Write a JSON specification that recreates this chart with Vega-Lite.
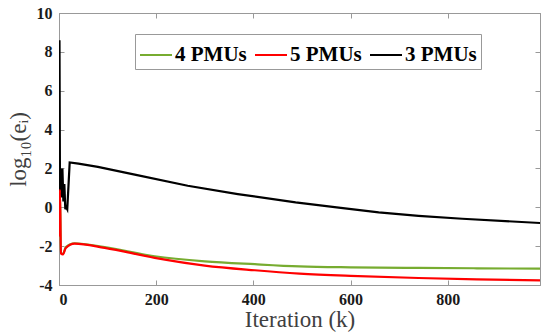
{
  "$schema": "https://vega.github.io/schema/vega-lite/v6.json",
  "width": 481,
  "height": 272,
  "autosize": {"type": "none"},
  "padding": {"left": 59, "top": 13, "right": 1, "bottom": 51},
  "background": "white",
  "config": {
    "view": {"stroke": "#999", "strokeWidth": 1},
    "axis": {
      "grid": false,
      "domainColor": "#999",
      "tickColor": "#999",
      "tickSize": -5,
      "labelOverlap": false,
      "labelFont": "Liberation Serif",
      "labelFontWeight": "bold",
      "labelFontSize": 16,
      "labelColor": "#1a1a1a",
      "titleFont": "Liberation Serif",
      "titleFontWeight": "normal",
      "titleFontSize": 23,
      "titleColor": "#404040"
    },
    "axisY": {"labelOverlap": false},
    "axisLeft": {"labelOverlap": false}
  },
  "datasets": {
    "lines": [
      {"series": "4 PMUs", "k": 0, "v": -1.5},
      {"series": "4 PMUs", "k": 2, "v": 0.8},
      {"series": "4 PMUs", "k": 4, "v": -2.35},
      {"series": "4 PMUs", "k": 8, "v": -2.4},
      {"series": "4 PMUs", "k": 14, "v": -2.05},
      {"series": "4 PMUs", "k": 32, "v": -1.85},
      {"series": "4 PMUs", "k": 94, "v": -2.05},
      {"series": "4 PMUs", "k": 197, "v": -2.52},
      {"series": "4 PMUs", "k": 300, "v": -2.78},
      {"series": "4 PMUs", "k": 403, "v": -2.93},
      {"series": "4 PMUs", "k": 495, "v": -3.04},
      {"series": "4 PMUs", "k": 600, "v": -3.09},
      {"series": "4 PMUs", "k": 740, "v": -3.12},
      {"series": "4 PMUs", "k": 860, "v": -3.14},
      {"series": "4 PMUs", "k": 991, "v": -3.16},
      {"series": "3 PMUs", "k": 0, "v": -1.4},
      {"series": "3 PMUs", "k": 1, "v": 8.6},
      {"series": "3 PMUs", "k": 2, "v": 1.0},
      {"series": "3 PMUs", "k": 3, "v": 2.0},
      {"series": "3 PMUs", "k": 5, "v": 0.5},
      {"series": "3 PMUs", "k": 7, "v": 2.0},
      {"series": "3 PMUs", "k": 9, "v": 0.3},
      {"series": "3 PMUs", "k": 11, "v": 1.2},
      {"series": "3 PMUs", "k": 13, "v": -0.1},
      {"series": "3 PMUs", "k": 15, "v": 0.0},
      {"series": "3 PMUs", "k": 17, "v": -0.1},
      {"series": "3 PMUs", "k": 22, "v": 2.31},
      {"series": "3 PMUs", "k": 40, "v": 2.25},
      {"series": "3 PMUs", "k": 80, "v": 2.08},
      {"series": "3 PMUs", "k": 156, "v": 1.68},
      {"series": "3 PMUs", "k": 265, "v": 1.11},
      {"series": "3 PMUs", "k": 368, "v": 0.68},
      {"series": "3 PMUs", "k": 487, "v": 0.25},
      {"series": "3 PMUs", "k": 580, "v": -0.03},
      {"series": "3 PMUs", "k": 658, "v": -0.26},
      {"series": "3 PMUs", "k": 740, "v": -0.44},
      {"series": "3 PMUs", "k": 830, "v": -0.59},
      {"series": "3 PMUs", "k": 991, "v": -0.81},
      {"series": "5 PMUs", "k": 0, "v": -1.5},
      {"series": "5 PMUs", "k": 2, "v": 0.9},
      {"series": "5 PMUs", "k": 4, "v": -2.38},
      {"series": "5 PMUs", "k": 8, "v": -2.43},
      {"series": "5 PMUs", "k": 14, "v": -2.1},
      {"series": "5 PMUs", "k": 32, "v": -1.87},
      {"series": "5 PMUs", "k": 94, "v": -2.09},
      {"series": "5 PMUs", "k": 197, "v": -2.6},
      {"series": "5 PMUs", "k": 300, "v": -3.0},
      {"series": "5 PMUs", "k": 403, "v": -3.24},
      {"series": "5 PMUs", "k": 495, "v": -3.41},
      {"series": "5 PMUs", "k": 600, "v": -3.53},
      {"series": "5 PMUs", "k": 740, "v": -3.64},
      {"series": "5 PMUs", "k": 860, "v": -3.71},
      {"series": "5 PMUs", "k": 991, "v": -3.76}
    ]
  },
  "data": {"name": "lines"},
  "layer": [
    {
      "encoding": {
        "x": {
          "field": "k", "type": "quantitative",
          "scale": {"domain": [0, 990], "nice": false, "zero": false},
          "axis": {"values": [0, 200, 400, 600, 800], "title": "Iteration (k)", "labelPadding": 11, "titlePadding": 1, "labelOverlap": false}
        },
        "y": {
          "field": "v", "type": "quantitative",
          "scale": {"domain": [-4, 10], "nice": false, "zero": false},
          "axis": {"values": [-4, -2, 0, 2, 4, 6, 8, 10], "format": "d", "labelExpr": "replace(datum.label, '−', '-')", "title": "log₁₀(eᵢ)", "labelPadding": 12, "titlePadding": 6, "labelOverlap": false, "labelFlush": false}
        },
        "color": {
          "field": "series", "type": "nominal",
          "scale": {"domain": ["4 PMUs", "5 PMUs", "3 PMUs"], "range": ["#77AC30", "#FF0000", "#000000"]},
          "legend": {
            "title": null,
            "orient": "none",
            "legendX": 76,
            "legendY": 21,
            "direction": "horizontal",
            "symbolType": "stroke",
            "symbolSize": 1024,
            "symbolStrokeWidth": 2,
            "labelFont": "Liberation Serif",
            "labelFontWeight": "bold",
            "labelFontSize": 21,
            "labelColor": "#000",
            "labelOffset": 2,
            "columnPadding": 4,
            "padding": 4,
            "strokeColor": "#999",
            "fillColor": "white"
          }
        }
      },
      "layer": [
        {
          "transform": [{"filter": "datum.series === '4 PMUs'"}],
          "mark": {"type": "line", "strokeWidth": 2.2, "clip": true, "interpolate": "monotone"}
        },
        {
          "transform": [{"filter": "datum.series === '3 PMUs'"}],
          "mark": {"type": "line", "strokeWidth": 2.2, "clip": true, "interpolate": "linear"}
        },
        {
          "transform": [{"filter": "datum.series === '5 PMUs'"}],
          "mark": {"type": "line", "strokeWidth": 2.2, "clip": true, "interpolate": "monotone"}
        }
      ]
    },
    {
      "mark": {"type": "line", "strokeOpacity": 0},
      "encoding": {
        "x": {"field": "k", "type": "quantitative", "axis": {"orient": "top", "values": [0, 200, 400, 600, 800], "labels": false, "title": null}},
        "y": {"field": "v", "type": "quantitative", "axis": {"orient": "right", "values": [-4, -2, 0, 2, 4, 6, 8, 10], "labels": false, "title": null}},
        "detail": {"field": "series"}
      }
    }
  ],
  "resolve": {"axis": {"x": "independent", "y": "independent"}}
}
